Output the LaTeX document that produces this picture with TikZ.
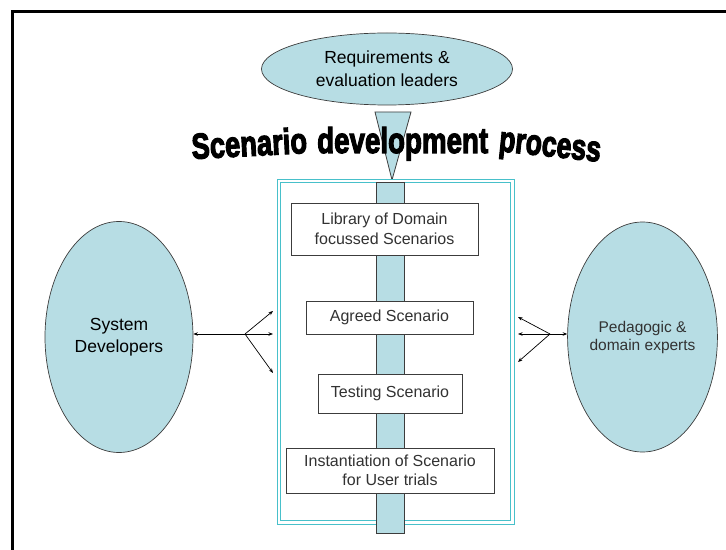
\documentclass[tikz,border=0pt]{standalone}
\usepackage{fontspec}
\setmainfont{Liberation Sans}
\newfontfamily\heavyfont{Liberation Sans}[BoldFeatures={FakeBold=3.5}]
\usetikzlibrary{shapes.geometric,arrows.meta}
\definecolor{tealfill}{RGB}{183,221,228}
\definecolor{framecyan}{RGB}{72,192,202}
\definecolor{edgegray}{RGB}{60,60,60}
\definecolor{txtgray}{RGB}{50,50,50}
\tikzset{
  blob/.style={ellipse, draw=edgegray, line width=0.7bp, fill=tealfill, inner sep=0pt, align=center},
  stagebox/.style={rectangle, draw=edgegray, line width=0.8bp, fill=white, inner sep=0pt, align=center,
    text=txtgray, font=\fontsize{16bp}{19.5bp}\selectfont},
  arr/.style={line width=0.7bp, draw=black, -{Stealth[length=4.5bp,width=3.5bp]}},
  dblarr/.style={line width=0.7bp, draw=black, {Stealth[length=4.5bp,width=3.5bp]}-{Stealth[length=4.5bp,width=3.5bp]}},
  titleword/.style={anchor=base west, inner sep=0pt, font=\heavyfont\bfseries\fontsize{36bp}{36bp}\selectfont}
}
\begin{document}
\begin{tikzpicture}[x=1bp,y=-1bp]
\useasboundingbox (0,0) rectangle (726,550);
% black frame
\draw[line width=3.2bp, line cap=rect] (726,11.7) -- (12.7,11.7) -- (12.7,551);
% top ellipse
\node[blob, minimum width=251bp, minimum height=72bp, text=black,
  font=\fontsize{17.5bp}{23bp}\selectfont] (req) at (387,69) {Requirements \&\\evaluation leaders};
% triangle
\coordinate (t1) at (375,112);
\coordinate (t2) at (411,112);
\coordinate (t3) at (392,180);
\draw[draw=edgegray, line width=0.8bp, fill=tealfill] (t1) -- (t2) -- (t3) -- cycle;
% title
\node[titleword, rotate=3] (w1) at (192,159) {\scalebox{0.76}[1]{Scenario}};
\node[titleword] (w2) at (317,153) {\scalebox{0.77}[1]{development}};
\node[titleword, rotate=-6] (w3) at (498,151) {\scalebox{0.74}[1]{process}};
% cyan double frame
\draw[draw=framecyan, line width=1.3bp, double=white, double distance=2.2bp] (279,181) rectangle (512.5,522.5);
% vertical bar
\node[rectangle, draw=edgegray, line width=0.8bp, fill=tealfill, inner sep=0pt,
  minimum width=28bp, minimum height=351bp] (bar) at (390,357.5) {};
% stage boxes
\node[stagebox, minimum width=187bp, minimum height=52bp] (lib) at (384.5,229) {Library of Domain\\focussed Scenarios};
\node[stagebox, minimum width=167bp, minimum height=33bp] (agr) at (389.5,317.5) {Agreed Scenario};
\node[stagebox, minimum width=144bp, minimum height=39bp] (tst) at (390,393.5) {Testing Scenario};
\node[stagebox, minimum width=208bp, minimum height=45bp] (ins) at (390,470.5) {Instantiation of Scenario\\for User trials};
% side ellipses
\node[blob, minimum width=148bp, minimum height=231bp, text=black,
  font=\fontsize{17.5bp}{22bp}\selectfont] (sys) at (119,337) {System\\Developers};
\node[blob, minimum width=149bp, minimum height=230bp, text=txtgray,
  font=\fontsize{15.5bp}{18bp}\selectfont] (ped) at (642.5,337) {Pedagogic \&\\domain experts};
% left arrows
\coordinate (lf) at (245,334);
\coordinate (la1) at (273,311);
\coordinate (la2) at (273,334);
\coordinate (la3) at (273,373);
\draw[dblarr] (sys.east |- lf) -- (la2);
\draw[arr] (lf) -- (la1);
\draw[arr] (lf) -- (la3);
% right arrows
\coordinate (rf) at (550,334);
\coordinate (ra1) at (518,317);
\coordinate (ra2) at (518,334);
\coordinate (ra3) at (518,362);
\draw[dblarr] (ped.west |- rf) -- (ra2);
\draw[arr] (rf) -- (ra1);
\draw[arr] (rf) -- (ra3);
\end{tikzpicture}
\end{document}
